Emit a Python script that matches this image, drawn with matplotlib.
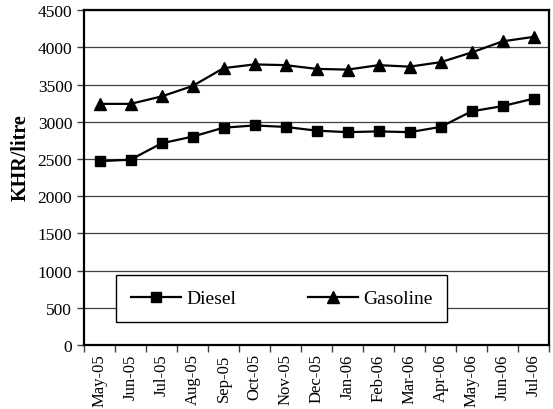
import numpy as np
import matplotlib
matplotlib.use('Agg')
from matplotlib import pyplot as plt

plt.rcParams['font.family'] = ['Liberation Serif', 'DejaVu Serif']

months = ['May-05', 'Jun-05', 'Jul-05', 'Aug-05', 'Sep-05', 'Oct-05', 'Nov-05',
          'Dec-05', 'Jan-06', 'Feb-06', 'Mar-06', 'Apr-06', 'May-06', 'Jun-06', 'Jul-06']
diesel = [2470, 2490, 2710, 2800, 2920, 2950, 2930, 2880, 2860, 2870, 2860, 2930, 3140, 3210, 3310]
gasoline = [3240, 3240, 3340, 3480, 3720, 3770, 3760, 3710, 3700, 3760, 3740, 3800, 3930, 4080, 4140]

fig = plt.figure(figsize=(5.53, 4.10), dpi=100)
ax = fig.add_axes([0.152, 0.156, 0.841, 0.817])

x = np.arange(len(months))
ax.plot(x, diesel, color='black', lw=1.6, marker='s', ms=7.5, label='Diesel')
ax.plot(x, gasoline, color='black', lw=1.6, marker='^', ms=8, label='Gasoline')

ax.set_xlim(-0.5, len(months) - 0.5)
ax.set_ylim(0, 4500)
ax.set_yticks(np.arange(0, 4501, 500))
ax.yaxis.grid(True, color='#404040', lw=0.9)
ax.set_axisbelow(True)

# ticks between categories, labels at centres
ax.set_xticks(np.arange(-0.5, len(months), 1.0))
ax.set_xticklabels([])
ax.set_xticks(x, minor=True)
ax.set_xticklabels(months, minor=True, rotation=90, fontsize=12)
ax.tick_params(axis='x', which='minor', length=0, pad=6)
ax.tick_params(axis='x', which='major', length=5, width=1, color='#404040')
ax.tick_params(axis='y', length=5, width=1, color='#404040', labelsize=12.5)

for s in ax.spines.values():
    s.set_linewidth(1.6)
    s.set_color('black')

ax.set_ylabel('KHR/litre', fontsize=14.5, fontweight='bold')
ax.yaxis.set_label_coords(-0.114, 0.561)

leg = ax.legend(loc='lower left', bbox_to_anchor=(0.069, 0.069, 0.712, 0.134), mode='expand',
                ncol=2, fancybox=False, framealpha=1, edgecolor='black', fontsize=14,
                handlelength=2.6, borderpad=0.75, handletextpad=0.25, borderaxespad=0)
leg.get_frame().set_linewidth(1)

plt.savefig('out.png', dpi=100)
